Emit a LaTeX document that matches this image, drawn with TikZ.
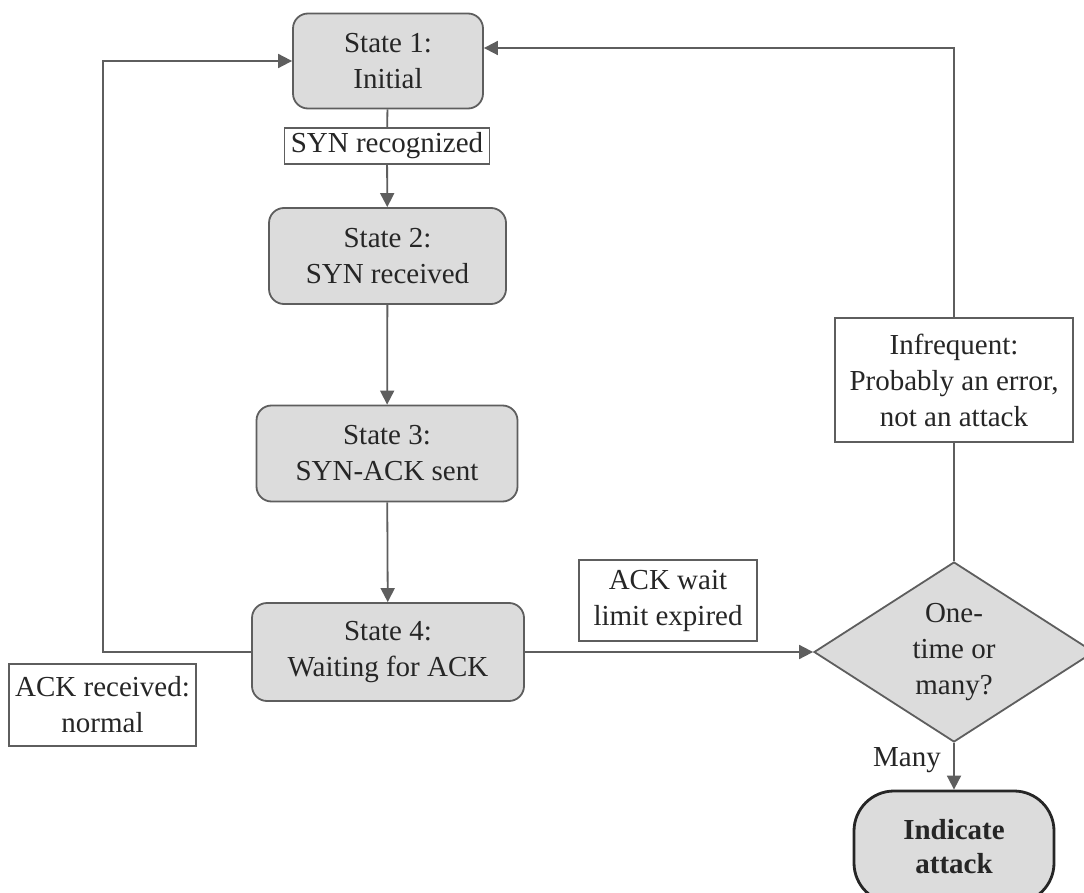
\documentclass[tikz,border=0pt]{standalone}
\usepackage{fontspec}
\setmainfont{Liberation Serif}
\usetikzlibrary{shapes.geometric,arrows.meta}
\definecolor{ln}{HTML}{5E5E5E}
\definecolor{fl}{HTML}{DCDCDC}
\definecolor{tx}{HTML}{262626}
\begin{document}
\begin{tikzpicture}[x=1pt,y=-1pt,
  every node/.style={font=\fontsize{29}{36}\selectfont, text=tx, align=center, inner sep=0pt},
  statebox/.style={draw=ln, line width=1.8pt, fill=fl, rounded corners=15pt, minimum height=96pt},
  lab/.style={draw=ln, line width=1.5pt, fill=white},
  conn/.style={draw=ln, line width=1.8pt},
  arr/.style={conn, -{Triangle[length=14pt,width=14pt]}},
]
\useasboundingbox (0,0) rectangle (1084,893);
\fill[white] (0,0) rectangle (1084,893);

\node[statebox, minimum width=190pt, minimum height=95pt] (s1) at (388,61) {State 1:\\Initial};
\node[lab, minimum width=205pt, minimum height=36pt] (syn) at (387,146) {SYN recognized};
\node[statebox, minimum width=237pt] (s2) at (387.5,256) {State 2:\\SYN received};
\node[statebox, minimum width=261pt] (s3) at (387,453.5) {State 3:\\SYN-ACK sent};
\node[statebox, minimum width=272pt, minimum height=98pt] (s4) at (388,652) {State 4:\\Waiting for ACK};
\node[lab, minimum width=187pt, minimum height=82pt] (ackr) at (102.5,705) {ACK received:\\normal};
\node[lab, minimum width=178pt, minimum height=81pt] (ackw) at (668,600.5) {ACK wait\\limit expired};
\node[diamond, draw=ln, fill=fl, line width=1.8pt, minimum width=280pt, minimum height=180pt] (dia) at (954,652) {};
\node (diat) at (dia.center) {One-\\time or\\many?};
\node[lab, minimum width=238pt, minimum height=124pt] (inf) at (954,380) {Infrequent:\\Probably an error,\\not an attack};
\node[anchor=east] (many) at (941,760) {Many};
\node[draw=black!85, line width=2.8pt, fill=fl, rounded corners=40pt, minimum width=200pt, minimum height=112pt,
      font=\fontsize{29}{34}\selectfont\bfseries] (ind) at (954,847) {Indicate\\attack};

\coordinate (lc) at (103,652);
\coordinate (tr) at (954,48);

\draw[conn] (s1) -- (syn);
\draw[arr] (syn) -- (s2);
\draw[arr] (s2) -- (s3);
\draw[arr] (s3) -- (s4);
\draw[arr] (s4.west) -- (lc) |- (s1.west);
\draw[arr] (s4.east) -- (dia.west);
\draw[conn] (dia.north) -- (inf.south);
\draw[arr] (inf.north) -- (tr) -- (s1.east |- tr);
\draw[arr] (dia.south) -- (ind.north);
\end{tikzpicture}
\end{document}
